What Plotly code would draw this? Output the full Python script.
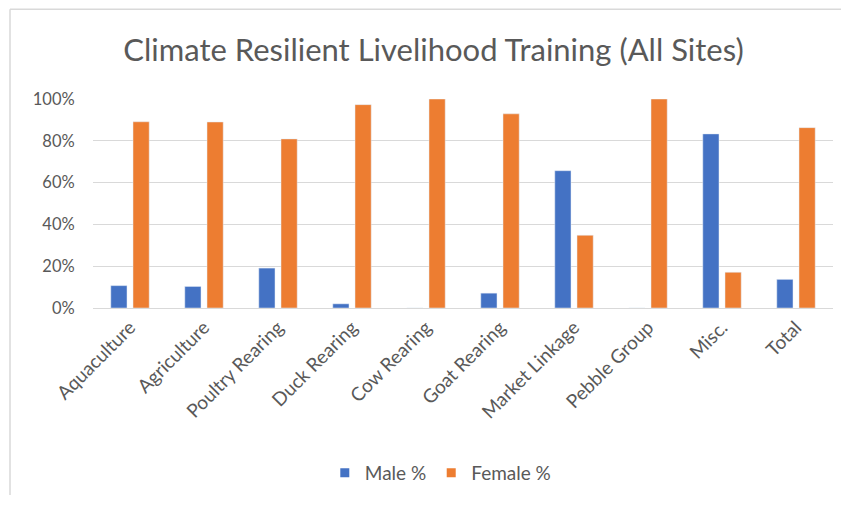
import plotly.graph_objects as go

categories = ["Aquaculture", "Agriculture", "Poultry Rearing", "Duck Rearing", "Cow Rearing",
              "Goat Rearing", "Market Linkage", "Pebble Group", "Misc.", "Total"]
male_pct = [10.7, 10.3, 19.1, 2.0, 0.0, 7.1, 65.7, 0.0, 83.3, 13.7]
female_pct = [89.1, 89.0, 80.9, 97.3, 100.0, 92.9, 34.8, 100.0, 17.1, 86.3]
y_ticks = [0, 20, 40, 60, 80, 100]
y_tick_labels = ["0%", "20%", "40%", "60%", "80%", "100%"]

FONT = "Lato"
GRAY = "#595959"
BLUE = "#4472C4"
ORANGE = "#ED7D31"

# page body has an 8px margin on every side, so figure coords = window coords - 8,
# and the figure is kept 16px smaller than the window to avoid scrollbars
W, H = 833, 490
L, T = 85, 91
R, B = W - 825, H - 301
pw, ph = W - L - R, H - T - B

fig = go.Figure()
fig.add_trace(go.Bar(name="Male %", x=categories, y=male_pct, marker_color=BLUE, showlegend=False))
fig.add_trace(go.Bar(name="Female %", x=categories, y=female_pct, marker_color=ORANGE, showlegend=False))
# legend entries with small square markers
fig.add_trace(go.Scatter(name="Male %", x=[None], y=[None], mode="markers",
                         marker=dict(symbol="square", size=9, color=BLUE)))
fig.add_trace(go.Scatter(name="Female %", x=[None], y=[None], mode="markers",
                         marker=dict(symbol="square", size=9, color=ORANGE)))

bx0 = -(L - 2) / pw
bx1 = (W + 40 - L) / pw
by0 = -(H - 1 - (T + ph)) / ph
by1 = (T + ph - 0.75) / ph
border = "#D9D9D9"

fig.update_layout(
    width=W, height=H,
    margin=dict(l=L, r=R, t=T, b=B),
    paper_bgcolor="white", plot_bgcolor="white",
    barmode="group", bargap=0.40, bargroupgap=0.27,
    title=dict(text="Climate Resilient Livelihood Training (All Sites)",
               font=dict(family=FONT, size=31, color=GRAY),
               x=425.5 / W, xanchor="center", y=1 - 42 / H, yanchor="middle"),
    font=dict(family=FONT, color=GRAY, size=16),
    legend=dict(orientation="h", x=0.47, xanchor="center", y=-(465 - (T + ph)) / ph, yanchor="middle",
                font=dict(family=FONT, size=19, color=GRAY), itemwidth=30),
    shapes=[
        dict(type="line", xref="paper", yref="paper", x0=bx0, x1=bx0, y0=by0, y1=by1,
             line=dict(color=border, width=1.5), layer="below"),
        dict(type="line", xref="paper", yref="paper", x0=bx0, x1=bx1, y0=by1, y1=by1,
             line=dict(color=border, width=1.5), layer="below"),
    ],
)
fig.update_xaxes(tickangle=-45, showline=True, linecolor="#D9D9D9", ticks="",
                 tickfont=dict(size=19, color=GRAY), automargin=False)
fig.update_yaxes(range=[0, 100], tickvals=y_ticks, ticktext=y_tick_labels, showgrid=True,
                 gridcolor="#D9D9D9", zeroline=False, tickfont=dict(size=16.5, color=GRAY),
                 ticks="outside", ticklen=14, tickcolor="rgba(0,0,0,0)", automargin=False)

fig.write_html("out.html")
